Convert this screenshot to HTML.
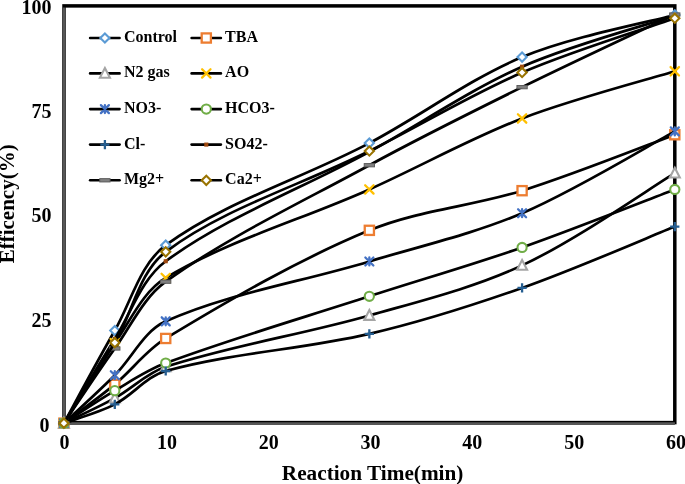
<!DOCTYPE html><html><head><meta charset="utf-8"><style>html,body{margin:0;padding:0;background:#fff;}svg{display:block;will-change:transform;}text{font-family:"Liberation Serif",serif;font-weight:bold;fill:#000;}</style></head><body>
<svg width="685" height="484" viewBox="0 0 685 484">
<rect x="64.0" y="5.9" width="610.8" height="416.7" fill="none" stroke="#000" stroke-width="3.5"/>
<path d="M64.1 7.4L64.1 424.3" stroke="#575757" stroke-width="2.4"/>
<path d="M62.9 423.6L674.9 423.6" stroke="#575757" stroke-width="2.9"/>
<text x="49.60" y="431.60" font-size="20" text-anchor="end">0</text>
<text x="51.40" y="326.84" font-size="20" text-anchor="end">25</text>
<text x="51.40" y="222.47" font-size="20" text-anchor="end">50</text>
<text x="51.40" y="118.11" font-size="20" text-anchor="end">75</text>
<text x="51.40" y="13.75" font-size="20" text-anchor="end">100</text>
<text x="64.50" y="449.20" font-size="20" text-anchor="middle">0</text>
<text x="166.92" y="449.20" font-size="20" text-anchor="middle">10</text>
<text x="268.73" y="449.20" font-size="20" text-anchor="middle">20</text>
<text x="370.55" y="449.20" font-size="20" text-anchor="middle">30</text>
<text x="472.37" y="449.20" font-size="20" text-anchor="middle">40</text>
<text x="574.18" y="449.20" font-size="20" text-anchor="middle">50</text>
<text x="676.00" y="449.20" font-size="20" text-anchor="middle">60</text>
<text x="372.6" y="479.5" font-size="21.25" text-anchor="middle">Reaction Time(min)</text>
<text transform="translate(13.8 203.8) rotate(-90)" font-size="21" text-anchor="middle">Efficency(%)</text>
<path d="M90.10 38.00L119.60 38.00" stroke="#000" stroke-width="2.6" stroke-linecap="round"/>
<path d="M104.90 33.40L109.50 38.00L104.90 42.60L100.30 38.00Z" fill="#fff" stroke="#5B9BD5" stroke-width="2.1"/>
<text x="124.00" y="42.00" font-size="16">Control</text>
<path d="M191.60 38.00L220.90 38.00" stroke="#000" stroke-width="2.6" stroke-linecap="round"/>
<rect x="201.70" y="33.40" width="9.20" height="9.20" fill="#fff" stroke="#ED7D31" stroke-width="2.3"/>
<text x="225.10" y="42.00" font-size="16">TBA</text>
<path d="M90.10 73.40L119.60 73.40" stroke="#000" stroke-width="2.6" stroke-linecap="round"/>
<path d="M104.90 68.00L109.90 77.80L99.90 77.80Z" fill="#fff" stroke="#A5A5A5" stroke-width="2.1" stroke-linejoin="miter"/>
<text x="124.00" y="77.40" font-size="16">N2 gas</text>
<path d="M191.60 73.40L220.90 73.40" stroke="#000" stroke-width="2.6" stroke-linecap="round"/>
<path d="M202.10 69.20L210.50 77.60M210.50 69.20L202.10 77.60" stroke="#FFC000" stroke-width="2.3" stroke-linecap="round" fill="none"/>
<text x="225.10" y="77.40" font-size="16">AO</text>
<path d="M90.10 109.10L119.60 109.10" stroke="#000" stroke-width="2.6" stroke-linecap="round"/>
<path d="M100.90 105.10L108.90 113.10M108.90 105.10L100.90 113.10M104.90 105.10L104.90 113.10" stroke="#4472C4" stroke-width="2.3" stroke-linecap="round" fill="none"/>
<text x="124.00" y="113.10" font-size="16">NO3-</text>
<path d="M191.60 109.10L220.90 109.10" stroke="#000" stroke-width="2.6" stroke-linecap="round"/>
<circle cx="206.30" cy="109.10" r="4.6" fill="#fff" stroke="#70AD47" stroke-width="2.1"/>
<text x="225.10" y="113.10" font-size="16">HCO3-</text>
<path d="M90.10 144.60L119.60 144.60" stroke="#000" stroke-width="2.6" stroke-linecap="round"/>
<path d="M100.30 144.60L109.50 144.60M104.90 140.00L104.90 149.20" stroke="#255E91" stroke-width="2.3" fill="none"/>
<text x="124.00" y="148.60" font-size="16">Cl-</text>
<path d="M191.60 144.60L220.90 144.60" stroke="#000" stroke-width="2.6" stroke-linecap="round"/>
<rect x="204.25" y="142.55" width="4.10" height="4.10" fill="#9E480E"/>
<text x="225.10" y="148.60" font-size="16">SO42-</text>
<path d="M90.10 180.30L119.60 180.30" stroke="#000" stroke-width="2.6" stroke-linecap="round"/>
<rect x="99.75" y="178.65" width="10.3" height="3.3" fill="#808080" stroke="#5A5A5A" stroke-width="0.95"/>
<text x="124.00" y="184.30" font-size="16">Mg2+</text>
<path d="M191.60 180.30L220.90 180.30" stroke="#000" stroke-width="2.6" stroke-linecap="round"/>
<path d="M206.30 175.70L210.90 180.30L206.30 184.90L201.70 180.30Z" fill="#fff" stroke="#997300" stroke-width="2.1"/>
<text x="225.10" y="184.30" font-size="16">Ca2+</text>
<path d="M63.90 423.20 C72.38 407.75 97.31 361.12 114.81 330.53 C131.25 301.77 139.94 264.14 165.72 245.16 C224.79 201.66 302.22 178.52 369.35 143.09 C421.01 115.83 468.60 79.53 522.08 57.10 C570.42 36.81 649.35 21.96 674.80 14.93" fill="none" stroke="#000" stroke-width="2.7" stroke-linejoin="round" stroke-linecap="round"/>
<path d="M63.90 418.60L68.50 423.20L63.90 427.80L59.30 423.20Z" fill="#fff" stroke="#5B9BD5" stroke-width="2.1"/>
<path d="M114.81 325.93L119.41 330.53L114.81 335.13L110.21 330.53Z" fill="#fff" stroke="#5B9BD5" stroke-width="2.1"/>
<path d="M165.72 240.56L170.32 245.16L165.72 249.76L161.12 245.16Z" fill="#fff" stroke="#5B9BD5" stroke-width="2.1"/>
<path d="M369.35 138.49L373.95 143.09L369.35 147.69L364.75 143.09Z" fill="#fff" stroke="#5B9BD5" stroke-width="2.1"/>
<path d="M522.08 52.50L526.68 57.10L522.08 61.70L517.48 57.10Z" fill="#fff" stroke="#5B9BD5" stroke-width="2.1"/>
<path d="M674.80 10.33L679.40 14.93L674.80 19.53L670.20 14.93Z" fill="#fff" stroke="#5B9BD5" stroke-width="2.1"/>
<path d="M63.90 423.20 C72.38 416.73 98.42 398.02 114.81 384.38 C132.36 369.77 146.27 350.23 165.72 338.46 C231.12 298.88 298.83 259.58 369.35 230.34 C417.61 210.32 471.94 206.37 522.08 190.68 C573.75 174.51 649.35 144.07 674.80 134.74" fill="none" stroke="#000" stroke-width="2.7" stroke-linejoin="round" stroke-linecap="round"/>
<rect x="59.30" y="418.60" width="9.20" height="9.20" fill="#fff" stroke="#ED7D31" stroke-width="2.3"/>
<rect x="110.21" y="379.78" width="9.20" height="9.20" fill="#fff" stroke="#ED7D31" stroke-width="2.3"/>
<rect x="161.12" y="333.86" width="9.20" height="9.20" fill="#fff" stroke="#ED7D31" stroke-width="2.3"/>
<rect x="364.75" y="225.74" width="9.20" height="9.20" fill="#fff" stroke="#ED7D31" stroke-width="2.3"/>
<rect x="517.48" y="186.08" width="9.20" height="9.20" fill="#fff" stroke="#ED7D31" stroke-width="2.3"/>
<rect x="670.20" y="130.14" width="9.20" height="9.20" fill="#fff" stroke="#ED7D31" stroke-width="2.3"/>
<path d="M63.90 423.20 C72.38 419.03 98.28 407.30 114.81 398.15 C132.22 388.52 146.92 372.95 165.72 366.84 C231.77 345.40 302.06 334.65 369.35 315.50 C420.85 300.84 473.82 287.89 522.08 265.40 C575.64 240.44 649.35 188.52 674.80 173.15" fill="none" stroke="#000" stroke-width="2.7" stroke-linejoin="round" stroke-linecap="round"/>
<path d="M63.90 417.80L68.90 427.60L58.90 427.60Z" fill="#fff" stroke="#A5A5A5" stroke-width="2.1" stroke-linejoin="miter"/>
<path d="M114.81 392.75L119.81 402.55L109.81 402.55Z" fill="#fff" stroke="#A5A5A5" stroke-width="2.1" stroke-linejoin="miter"/>
<path d="M165.72 361.44L170.72 371.24L160.72 371.24Z" fill="#fff" stroke="#A5A5A5" stroke-width="2.1" stroke-linejoin="miter"/>
<path d="M369.35 310.10L374.35 319.90L364.35 319.90Z" fill="#fff" stroke="#A5A5A5" stroke-width="2.1" stroke-linejoin="miter"/>
<path d="M522.08 260.00L527.08 269.80L517.08 269.80Z" fill="#fff" stroke="#A5A5A5" stroke-width="2.1" stroke-linejoin="miter"/>
<path d="M674.80 167.75L679.80 177.55L669.80 177.55Z" fill="#fff" stroke="#A5A5A5" stroke-width="2.1" stroke-linejoin="miter"/>
<path d="M63.90 423.20 C72.38 409.84 96.66 368.94 114.81 343.05 C130.60 320.51 142.70 291.82 165.72 277.93 C227.55 240.61 301.80 219.66 369.35 189.43 C420.59 166.50 469.84 138.66 522.08 118.46 C571.66 99.29 649.35 79.15 674.80 71.29" fill="none" stroke="#000" stroke-width="2.7" stroke-linejoin="round" stroke-linecap="round"/>
<path d="M59.70 419.00L68.10 427.40M68.10 419.00L59.70 427.40" stroke="#FFC000" stroke-width="2.3" stroke-linecap="round" fill="none"/>
<path d="M110.61 338.85L119.01 347.25M119.01 338.85L110.61 347.25" stroke="#FFC000" stroke-width="2.3" stroke-linecap="round" fill="none"/>
<path d="M161.52 273.73L169.92 282.13M169.92 273.73L161.52 282.13" stroke="#FFC000" stroke-width="2.3" stroke-linecap="round" fill="none"/>
<path d="M365.15 185.23L373.55 193.63M373.55 185.23L365.15 193.63" stroke="#FFC000" stroke-width="2.3" stroke-linecap="round" fill="none"/>
<path d="M517.88 114.26L526.28 122.66M526.28 114.26L517.88 122.66" stroke="#FFC000" stroke-width="2.3" stroke-linecap="round" fill="none"/>
<path d="M670.60 67.09L679.00 75.49M679.00 67.09L670.60 75.49" stroke="#FFC000" stroke-width="2.3" stroke-linecap="round" fill="none"/>
<path d="M63.90 423.20 C72.38 415.20 98.33 391.68 114.81 375.19 C132.26 357.73 143.76 331.15 165.72 321.34 C228.61 293.24 301.65 281.98 369.35 261.44 C420.43 245.94 473.17 234.04 522.08 213.22 C574.98 190.70 649.35 145.04 674.80 131.40" fill="none" stroke="#000" stroke-width="2.7" stroke-linejoin="round" stroke-linecap="round"/>
<path d="M59.90 419.20L67.90 427.20M67.90 419.20L59.90 427.20M63.90 419.20L63.90 427.20" stroke="#4472C4" stroke-width="2.3" stroke-linecap="round" fill="none"/>
<path d="M110.81 371.19L118.81 379.19M118.81 371.19L110.81 379.19M114.81 371.19L114.81 379.19" stroke="#4472C4" stroke-width="2.3" stroke-linecap="round" fill="none"/>
<path d="M161.72 317.34L169.72 325.34M169.72 317.34L161.72 325.34M165.72 317.34L165.72 325.34" stroke="#4472C4" stroke-width="2.3" stroke-linecap="round" fill="none"/>
<path d="M365.35 257.44L373.35 265.44M373.35 257.44L365.35 265.44M369.35 257.44L369.35 265.44" stroke="#4472C4" stroke-width="2.3" stroke-linecap="round" fill="none"/>
<path d="M518.08 209.22L526.08 217.22M526.08 209.22L518.08 217.22M522.08 209.22L522.08 217.22" stroke="#4472C4" stroke-width="2.3" stroke-linecap="round" fill="none"/>
<path d="M670.80 127.40L678.80 135.40M678.80 127.40L670.80 135.40M674.80 127.40L674.80 135.40" stroke="#4472C4" stroke-width="2.3" stroke-linecap="round" fill="none"/>
<path d="M63.90 423.20 C72.38 417.77 97.47 400.87 114.81 390.64 C131.41 380.84 147.67 369.78 165.72 363.09 C232.52 338.33 301.40 318.34 369.35 296.30 C420.19 279.80 471.64 265.10 522.08 247.45 C573.46 229.48 649.35 199.10 674.80 189.43" fill="none" stroke="#000" stroke-width="2.7" stroke-linejoin="round" stroke-linecap="round"/>
<circle cx="63.90" cy="423.20" r="4.6" fill="#fff" stroke="#70AD47" stroke-width="2.1"/>
<circle cx="114.81" cy="390.64" r="4.6" fill="#fff" stroke="#70AD47" stroke-width="2.1"/>
<circle cx="165.72" cy="363.09" r="4.6" fill="#fff" stroke="#70AD47" stroke-width="2.1"/>
<circle cx="369.35" cy="296.30" r="4.6" fill="#fff" stroke="#70AD47" stroke-width="2.1"/>
<circle cx="522.08" cy="247.45" r="4.6" fill="#fff" stroke="#70AD47" stroke-width="2.1"/>
<circle cx="674.80" cy="189.43" r="4.6" fill="#fff" stroke="#70AD47" stroke-width="2.1"/>
<path d="M63.90 423.20 C72.38 420.07 98.81 412.61 114.81 404.41 C132.75 395.22 146.43 376.36 165.72 371.02 C231.28 352.85 302.26 349.51 369.35 333.87 C421.04 321.82 471.97 305.54 522.08 287.95 C573.79 269.78 649.35 236.81 674.80 226.58" fill="none" stroke="#000" stroke-width="2.7" stroke-linejoin="round" stroke-linecap="round"/>
<path d="M59.30 423.20L68.50 423.20M63.90 418.60L63.90 427.80" stroke="#255E91" stroke-width="2.3" fill="none"/>
<path d="M110.21 404.41L119.41 404.41M114.81 399.81L114.81 409.01" stroke="#255E91" stroke-width="2.3" fill="none"/>
<path d="M161.12 371.02L170.32 371.02M165.72 366.42L165.72 375.62" stroke="#255E91" stroke-width="2.3" fill="none"/>
<path d="M364.75 333.87L373.95 333.87M369.35 329.27L369.35 338.47" stroke="#255E91" stroke-width="2.3" fill="none"/>
<path d="M517.48 287.95L526.68 287.95M522.08 283.35L522.08 292.55" stroke="#255E91" stroke-width="2.3" fill="none"/>
<path d="M670.20 226.58L679.40 226.58M674.80 221.98L674.80 231.18" stroke="#255E91" stroke-width="2.3" fill="none"/>
<path d="M63.90 423.20 C72.38 409.15 97.34 366.67 114.81 338.88 C131.28 312.68 141.40 279.09 165.72 261.23 C226.25 216.75 301.72 188.77 369.35 151.86 C420.51 123.93 469.06 90.32 522.08 66.70 C570.88 44.95 649.35 24.26 674.80 15.77" fill="none" stroke="#000" stroke-width="2.7" stroke-linejoin="round" stroke-linecap="round"/>
<rect x="61.85" y="421.15" width="4.10" height="4.10" fill="#9E480E"/>
<rect x="112.76" y="336.83" width="4.10" height="4.10" fill="#9E480E"/>
<rect x="163.67" y="259.18" width="4.10" height="4.10" fill="#9E480E"/>
<rect x="367.30" y="149.81" width="4.10" height="4.10" fill="#9E480E"/>
<rect x="520.03" y="64.65" width="4.10" height="4.10" fill="#9E480E"/>
<rect x="672.75" y="13.72" width="4.10" height="4.10" fill="#9E480E"/>
<path d="M63.90 423.20 C72.38 410.75 97.21 372.93 114.81 348.48 C131.15 325.76 143.35 297.79 165.72 281.68 C228.20 236.70 300.73 202.67 369.35 165.22 C419.52 137.83 470.81 112.45 522.08 87.15 C572.62 62.21 649.35 26.62 674.80 14.52" fill="none" stroke="#000" stroke-width="2.7" stroke-linejoin="round" stroke-linecap="round"/>
<rect x="58.75" y="421.55" width="10.3" height="3.3" fill="#808080" stroke="#5A5A5A" stroke-width="0.95"/>
<rect x="109.66" y="346.83" width="10.3" height="3.3" fill="#808080" stroke="#5A5A5A" stroke-width="0.95"/>
<rect x="160.57" y="280.03" width="10.3" height="3.3" fill="#808080" stroke="#5A5A5A" stroke-width="0.95"/>
<rect x="364.20" y="163.57" width="10.3" height="3.3" fill="#808080" stroke="#5A5A5A" stroke-width="0.95"/>
<rect x="516.93" y="85.50" width="10.3" height="3.3" fill="#808080" stroke="#5A5A5A" stroke-width="0.95"/>
<rect x="669.65" y="12.87" width="10.3" height="3.3" fill="#808080" stroke="#5A5A5A" stroke-width="0.95"/>
<path d="M63.90 423.20 C72.38 409.77 98.59 369.93 114.81 342.63 C132.53 312.81 139.06 271.90 165.72 251.84 C223.91 208.03 301.69 185.06 369.35 151.02 C420.48 125.30 469.70 95.31 522.08 72.54 C571.51 51.06 649.35 27.32 674.80 18.27" fill="none" stroke="#000" stroke-width="2.7" stroke-linejoin="round" stroke-linecap="round"/>
<path d="M63.90 418.60L68.50 423.20L63.90 427.80L59.30 423.20Z" fill="#fff" stroke="#997300" stroke-width="2.1"/>
<path d="M114.81 338.03L119.41 342.63L114.81 347.23L110.21 342.63Z" fill="#fff" stroke="#997300" stroke-width="2.1"/>
<path d="M165.72 247.24L170.32 251.84L165.72 256.44L161.12 251.84Z" fill="#fff" stroke="#997300" stroke-width="2.1"/>
<path d="M369.35 146.42L373.95 151.02L369.35 155.62L364.75 151.02Z" fill="#fff" stroke="#997300" stroke-width="2.1"/>
<path d="M522.08 67.94L526.68 72.54L522.08 77.14L517.48 72.54Z" fill="#fff" stroke="#997300" stroke-width="2.1"/>
<path d="M674.80 13.67L679.40 18.27L674.80 22.87L670.20 18.27Z" fill="#fff" stroke="#997300" stroke-width="2.1"/>
</svg></body></html>
